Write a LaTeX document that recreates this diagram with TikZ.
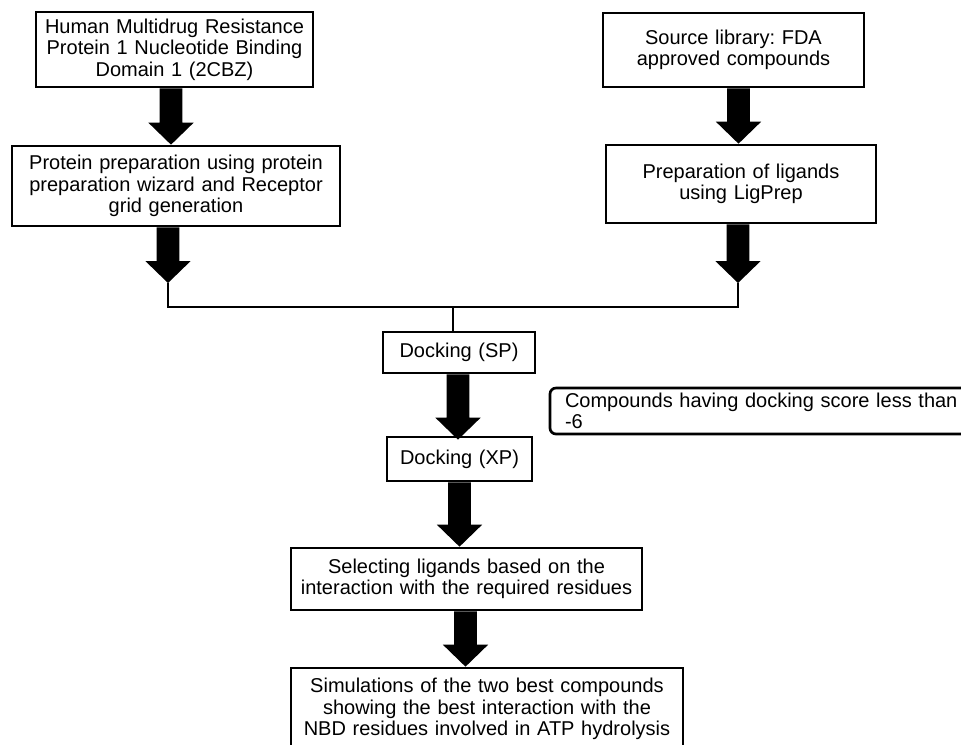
\documentclass[tikz,border=0pt]{standalone}
\usepackage{fontspec}
\setmainfont{Liberation Sans}
\usetikzlibrary{calc}
\frenchspacing
\newcommand\blockarr[2]{\fill let \p1=(#1),\p2=(#2) in (\x1-8.5pt,\y1) -- (\x1+8.5pt,\y1) -- (\x1+8.5pt,\y2+16.5pt) -- (\x1+17pt,\y2+16.5pt) -- (\x1,\y2) -- (\x1-17pt,\y2+16.5pt) -- (\x1-8.5pt,\y2+16.5pt) -- cycle;}
\begin{document}
\begin{tikzpicture}[x=0.75pt,y=-0.75pt,
  every node/.style={font=\fontsize{15}{16.2}\selectfont},
  box/.style={draw, line width=2pt, align=center, inner xsep=2pt, inner ysep=2pt},
  cbox/.style={draw, line width=2pt, rounded corners=4.5pt, align=left, inner xsep=11.25pt, inner ysep=2pt},
  thinline/.style={line width=0.8pt}]
\useasboundingbox (0,0) rectangle (961,744);
\node[box, text width=203.75pt, minimum height=56.25pt] (hum) at (174.5,49.5) {Human Multidrug Resistance\\Protein 1 Nucleotide Binding\\Domain 1 (2CBZ)};
\node[box, text width=242pt, minimum height=60pt] (prot) at (176,186) {Protein preparation using protein\\preparation wizard and Receptor\\grid generation};
\node[box, text width=191.75pt, minimum height=55.5pt] (src) at (733.5,50) {Source library: FDA\\approved compounds};
\node[box, text width=198.5pt, minimum height=58.5pt] (lig) at (741,184) {Preparation of ligands\\using LigPrep};
\node[box, text width=110pt, minimum height=30.75pt] (sp) at (459,352.5) {Docking (SP)};
\node[box, text width=104.75pt, minimum height=33pt] (xp) at (459.5,459) {Docking (XP)};
\node[cbox, text width=303.75pt, minimum height=34.5pt] (cmp) at (767.5,411) {Compounds having docking score less than\\-6};
\node[box, text width=259.25pt, minimum height=46.5pt] (sel) at (466.5,579) {Selecting ligands based on the\\interaction with the required residues};
\node[box, text width=290pt, minimum height=61.5pt] (sim) at (487,709) {Simulations of the two best compounds\\showing the best interaction with the\\NBD residues involved in ATP hydrolysis};
\coordinate (tl) at (168,283);
\coordinate (tr) at (738,283);
\coordinate (jn) at (453,307);
\draw[thinline] (tl) |- (jn) -| (tr);
\draw[thinline] (jn) -- (jn |- sp.north);
\blockarr{$(hum.south)+(-3.5,0)$}{prot.north}
\blockarr{$(prot.south)+(-8,0)$}{tl}
\blockarr{$(src.south)+(5,0)$}{lig.north}
\blockarr{$(lig.south)+(-3,0)$}{tr}
\blockarr{$(sp.south)+(-1,0)$}{$(xp.north)+(0,4)$}
\blockarr{xp.south}{sel.north}
\blockarr{$(sel.south)+(-1,0)$}{$(sel.south |- sim.north)+(-1,0)$}
\end{tikzpicture}
\end{document}
